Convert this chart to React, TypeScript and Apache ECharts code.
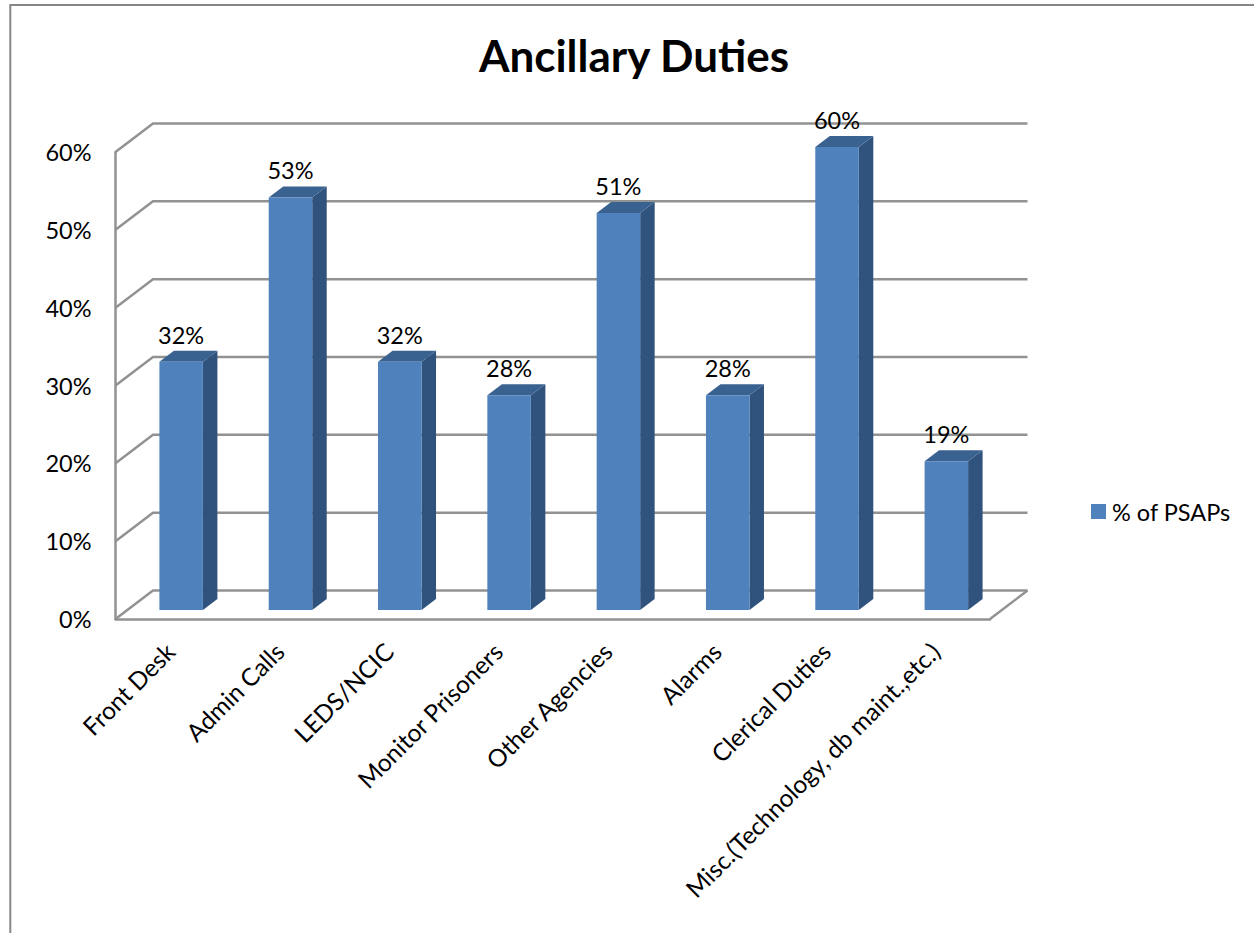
import React, { useEffect, useRef } from "react";
import * as echarts from "echarts";

const titleText = "Ancillary Duties";
const seriesName = "% of PSAPs";
const categories = [
  "Front Desk",
  "Admin Calls",
  "LEDS/NCIC",
  "Monitor Prisoners",
  "Other Agencies",
  "Alarms",
  "Clerical Duties",
  "Misc.(Technology, db maint.,etc.)",
];
const barTops = [31.9, 53, 31.9, 27.6, 51, 27.6, 59.5, 19.1];
const barLabels = ["32%", "53%", "32%", "28%", "51%", "28%", "60%", "19%"];
const wallTicks = [0, 10, 20, 30, 40, 50, 60];

const FONT = "Lato, 'Open Sans', sans-serif";
const GRID_COLOR = "#929292";
const BACK_DX = 37.5;
const BACK_DY = -28.5;
const BAR_DX = 11;
const BAR_DY = -9;
const BAR_W = 43.5;
const SIDE_DX = 14.5;
const SIDE_DY = -11;

export default function App() {
  const ref = useRef<HTMLDivElement>(null);
  useEffect(() => {
    document.body.style.margin = "0";
    const chart = echarts.init(ref.current!, undefined, { renderer: "svg" });
    chart.setOption({
      animation: false,
      backgroundColor: "#ffffff",
      title: {
        text: titleText,
        left: 629,
        top: 28,
        textAlign: "center",
        textStyle: { fontFamily: FONT, fontSize: 44, fontWeight: "bold", color: "#000000" },
      },
      legend: {
        left: 1091,
        top: 499.5,
        padding: 0,
        data: [{ name: seriesName, icon: "rect" }],
        itemWidth: 15,
        itemHeight: 15,
        itemGap: 6,
        selectedMode: false,
        textStyle: { fontFamily: FONT, fontSize: 23.5, color: "#000000", padding: [0, 0, 0, 1] },
      },
      grid: { left: 115.5, right: 264, top: 152, bottom: 314, containLabel: false },
      xAxis: {
        type: "category",
        data: categories,
        axisLine: { show: true, lineStyle: { color: GRID_COLOR, width: 2.5 } },
        axisTick: { show: false },
        axisLabel: {
          interval: 0,
          rotate: 45,
          margin: 28,
          fontFamily: FONT,
          fontSize: 24.5,
          color: "#000000",
        },
      },
      yAxis: {
        type: "value",
        min: 0,
        max: 60,
        interval: 10,
        splitLine: { show: false },
        axisLine: { show: true, lineStyle: { color: GRID_COLOR, width: 2.5 } },
        axisTick: { show: false },
        axisLabel: {
          formatter: "{value}%",
          margin: 24,
          fontFamily: FONT,
          fontSize: 23.5,
          color: "#000000",
        },
      },
      graphic: [
        {
          type: "polyline",
          silent: true,
          shape: { points: [[10.3, 933], [10.3, 5], [1254, 5]] },
          style: { stroke: "#868686", lineWidth: 2, fill: "none" },
        },
      ],
      series: [
        {
          type: "custom",
          name: "walls",
          z: 1,
          silent: true,
          data: wallTicks,
          encode: { y: 0 },
          renderItem: (_p: any, api: any) => {
            const v = api.value(0);
            const cw = api.size([1, 0])[0];
            const firstC = api.coord([0, v]);
            const lastC = api.coord([categories.length - 1, v]);
            const fx = firstC[0] - cw / 2;
            const rx = lastC[0] + cw / 2;
            const y = firstC[1];
            const children: any[] = [
              {
                type: "polyline",
                shape: {
                  points: [
                    [fx, y],
                    [fx + BACK_DX, y + BACK_DY],
                    [rx + BACK_DX, y + BACK_DY],
                  ],
                },
                style: { stroke: GRID_COLOR, lineWidth: 2.5, fill: "none" },
              },
            ];
            if (v === 0) {
              children.push({
                type: "line",
                shape: { x1: rx, y1: y, x2: rx + BACK_DX, y2: y + BACK_DY },
                style: { stroke: GRID_COLOR, lineWidth: 2.5 },
              });
            }
            return { type: "group", children };
          },
        },
        {
          type: "custom",
          name: seriesName,
          z: 3,
          silent: true,
          itemStyle: { color: "#4f81bd" },
          data: barTops.map((v, i) => [i, v]),
          encode: { x: 0, y: 1 },
          renderItem: (_p: any, api: any) => {
            const i = api.value(0);
            const v = api.value(1);
            const top = api.coord([i, v]);
            const base = api.coord([i, 0]);
            const l = top[0] + BAR_DX - BAR_W / 2;
            const r = l + BAR_W;
            const t = top[1] + BAR_DY;
            const b = base[1] + BAR_DY;
            return {
              type: "group",
              children: [
                {
                  type: "polygon",
                  shape: {
                    points: [
                      [r, t],
                      [r + SIDE_DX, t + SIDE_DY],
                      [r + SIDE_DX, b + SIDE_DY],
                      [r, b],
                    ],
                  },
                  style: { fill: "#30537e" },
                },
                {
                  type: "polygon",
                  shape: {
                    points: [
                      [l, t],
                      [l + SIDE_DX, t + SIDE_DY],
                      [r + SIDE_DX, t + SIDE_DY],
                      [r, t],
                    ],
                  },
                  style: { fill: "#3a6291" },
                },
                {
                  type: "rect",
                  shape: { x: l, y: t, width: BAR_W, height: b - t },
                  style: { fill: "#4f81bd" },
                },
                {
                  type: "text",
                  style: {
                    text: barLabels[i],
                    x: (l + r) / 2,
                    y: t - 27,
                    align: "center",
                    verticalAlign: "middle",
                    fontFamily: FONT,
                    fontSize: 23.5,
                    fill: "#000000",
                  },
                },
              ],
            };
          },
        },
      ],
    });
    return () => chart.dispose();
  }, []);
  return <div ref={ref} style={{ position: "fixed", left: 0, top: 0, width: 1254, height: 933 }} />;
}
